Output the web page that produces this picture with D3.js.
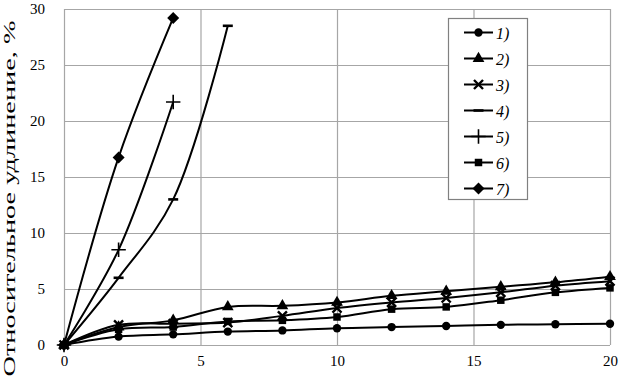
<!DOCTYPE html>
<html>
<head>
<meta charset="utf-8">
<script src="https://d3js.org/d3.v7.min.js"></script>
<style>
  body { margin: 0; background: #fff; }
</style>
</head>
<body>
<div id="chart"></div>
<script>
// values
var xTicks = [0, 5, 10, 15, 20];
var yTicks = [0, 5, 10, 15, 20, 25, 30];
var xLong = [0, 2, 4, 6, 8, 10, 12, 14, 16, 18, 20];
var s1 = [0, 0.75, 0.95, 1.2, 1.3, 1.5, 1.6, 1.7, 1.8, 1.85, 1.9];
var s2 = [0, 1.6, 2.2, 3.4, 3.5, 3.8, 4.4, 4.8, 5.2, 5.6, 6.1];
var s3 = [0, 1.8, 1.9, 2.0, 2.6, 3.3, 3.8, 4.2, 4.7, 5.3, 5.7];
var x4 = [0, 2, 4, 6];
var s4 = [0, 6.0, 13.0, 28.5];
var x5 = [0, 2, 4];
var s5 = [0, 8.5, 21.7];
var s6 = [0, 1.4, 1.6, 2.1, 2.2, 2.5, 3.2, 3.4, 4.0, 4.7, 5.1];
var x7 = [0, 2, 4];
var s7 = [0, 16.75, 29.2];
var names = ["1)", "2)", "3)", "4)", "5)", "6)", "7)"];

var W = 622, H = 379;
var edge = { top: 9, right: 12, bottom: 34, left: 64 };
var serif = "'Liberation Serif', 'DejaVu Serif', 'Times New Roman', serif";

var svg = d3.select("#chart").append("svg")
    .attr("width", W).attr("height", H)
    .attr("font-family", serif);

var x = d3.scaleLinear().domain([0, 20]).range([edge.left, W - edge.right]);
var y = d3.scaleLinear().domain([0, 30]).range([H - edge.bottom, edge.top]);

// grid + axes
var gy = svg.append("g")
    .attr("transform", "translate(" + edge.left + ",0)")
    .call(d3.axisLeft(y).tickValues(yTicks).tickSize(-(x.range()[1] - x.range()[0])).tickPadding(19));
var gx = svg.append("g")
    .attr("transform", "translate(0," + y(0) + ")")
    .call(d3.axisBottom(x).tickValues(xTicks).tickSize(-(y.range()[0] - y.range()[1])).tickPadding(10));
[gx, gy].forEach(function(g) {
    g.attr("font-family", serif).attr("font-size", 15);
    g.select(".domain").remove();
    g.selectAll(".tick line").attr("stroke", "#a6a6a6").attr("stroke-width", 1.2);
    g.selectAll(".tick text").attr("fill", "#000");
});

// y title
svg.append("text")
    .attr("transform", "translate(15," + (H / 2 + 9) + ") rotate(-90)")
    .attr("text-anchor", "middle")
    .attr("textLength", 356)
    .attr("lengthAdjust", "spacingAndGlyphs")
    .attr("font-size", 17)
    .text("Относительное удлинение, %");

// series
var series = [
    { xs: xLong, ys: s1, m: "circle" },
    { xs: xLong, ys: s2, m: "triangle" },
    { xs: xLong, ys: s3, m: "x" },
    { xs: x4, ys: s4, m: "dash" },
    { xs: x5, ys: s5, m: "plus" },
    { xs: xLong, ys: s6, m: "square" },
    { xs: x7, ys: s7, m: "diamond" }
];

var line = d3.line()
    .x(function(d) { return x(d[0]); })
    .y(function(d) { return y(d[1]); })
    .curve(d3.curveCatmullRom.alpha(0.5));

function drawMarker(g, kind) {
    if (kind == "circle") {
        g.append("path").attr("d", d3.symbol(d3.symbolCircle, 55)()).attr("fill", "#000");
    } else if (kind == "triangle") {
        g.append("path").attr("d", d3.symbol(d3.symbolTriangle, 60)()).attr("fill", "#000");
    } else if (kind == "square") {
        g.append("path").attr("d", d3.symbol(d3.symbolSquare, 56)()).attr("fill", "#000");
    } else if (kind == "diamond") {
        g.append("path").attr("d", "M0,-6L6,0L0,6L-6,0Z").attr("fill", "#000");
    } else if (kind == "x") {
        g.append("path").attr("d", d3.symbol(d3.symbolX, 55)())
            .attr("fill", "none").attr("stroke", "#000").attr("stroke-width", 2.4);
    } else if (kind == "plus") {
        g.append("path").attr("d", d3.symbol(d3.symbolPlus, 70)())
            .attr("fill", "none").attr("stroke", "#000").attr("stroke-width", 1.6);
    } else if (kind == "dash") {
        g.append("path").attr("d", "M-5,0H5")
            .attr("fill", "none").attr("stroke", "#000").attr("stroke-width", 2.6);
    }
}

series.forEach(function(s) {
    var pts = s.xs.map(function(v, i) { return [v, s.ys[i]]; });
    svg.append("path")
        .datum(pts)
        .attr("d", line)
        .attr("fill", "none")
        .attr("stroke", "#000")
        .attr("stroke-width", 2);
    pts.forEach(function(p) {
        var g = svg.append("g").attr("transform", "translate(" + x(p[0]) + "," + y(p[1]) + ")");
        drawMarker(g, s.m);
    });
});

// legend
var lg = svg.append("g");
lg.append("rect")
    .attr("x", 448.5).attr("y", 18.5).attr("width", 79).attr("height", 181)
    .attr("fill", "#fff").attr("stroke", "#808080").attr("stroke-width", 1.2);
names.forEach(function(n, i) {
    var ly = 32.5 + i * 26;
    lg.append("line").attr("x1", 464).attr("x2", 493).attr("y1", ly).attr("y2", ly)
        .attr("stroke", "#000").attr("stroke-width", 2);
    drawMarker(lg.append("g").attr("transform", "translate(478.5," + ly + ")"), series[i].m);
    lg.append("text").attr("x", 496).attr("y", ly + 6)
        .attr("font-size", 16).attr("font-style", "italic")
        .text(n);
});
</script>
</body>
</html>
